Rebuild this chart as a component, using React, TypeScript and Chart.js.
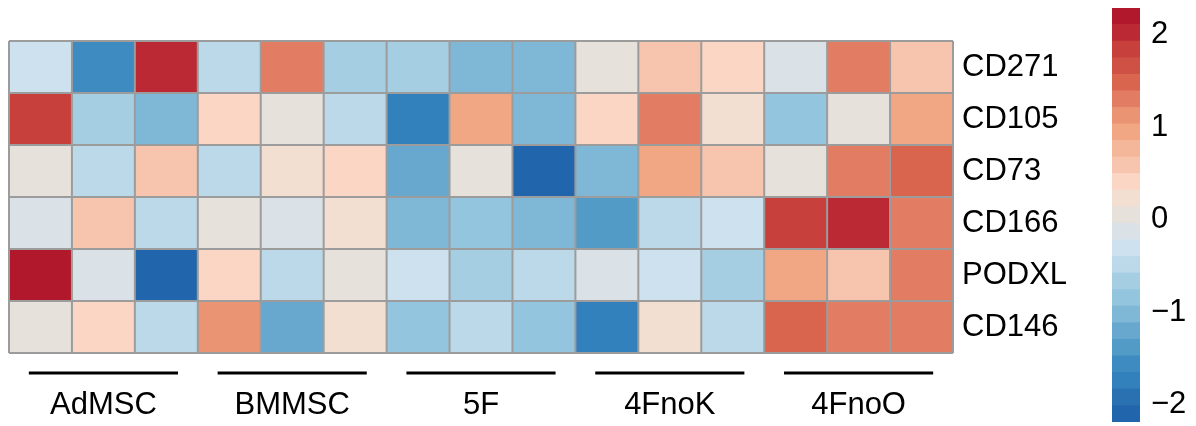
import React, { useEffect, useRef } from 'react';
import { Chart, registerables } from 'chart.js';

Chart.register(...registerables);

// ---- data ----
const rowLabels = ['CD271', 'CD105', 'CD73', 'CD166', 'PODXL', 'CD146'];
const groups = ['AdMSC', 'BMMSC', '5F', '4FnoK', '4FnoO'];
const columns = [
  'AdMSC 1', 'AdMSC 2', 'AdMSC 3',
  'BMMSC 1', 'BMMSC 2', 'BMMSC 3',
  '5F 1', '5F 2', '5F 3',
  '4FnoK 1', '4FnoK 2', '4FnoK 3',
  '4FnoO 1', '4FnoO 2', '4FnoO 3',
];
const cd271 = [-0.30, -1.55, 2.00, -0.48, 1.29, -0.66, -0.66, -1.02, -1.02, 0.05, 0.59, 0.41, -0.13, 1.29, 0.59];
const cd105 = [1.83, -0.66, -1.02, 0.41, 0.05, -0.48, -1.72, 0.95, -1.02, 0.41, 1.29, 0.23, -0.84, 0.05, 0.95];
const cd73 = [0.05, -0.48, 0.59, -0.48, 0.23, 0.41, -1.19, 0.05, -2.08, -1.02, 0.95, 0.59, 0.05, 1.29, 1.56];
const cd166 = [-0.13, 0.59, -0.48, 0.05, -0.13, 0.23, -1.02, -0.84, -1.02, -1.37, -0.48, -0.30, 1.83, 2.00, 1.29];
const podxl = [2.15, -0.13, -2.08, 0.41, -0.48, 0.05, -0.30, -0.66, -0.48, -0.13, -0.30, -0.66, 0.95, 0.59, 1.29];
const cd146 = [0.05, 0.41, -0.48, 1.05, -1.19, 0.23, -0.84, -0.48, -0.84, -1.72, 0.23, -0.48, 1.40, 1.29, 1.29];
const rows = [cd271, cd105, cd73, cd166, podxl, cd146];

const scaleTicks = [2, 1, 0, -1, -2];
const scaleMin = -2.19;
const scaleMax = 2.29;

// ---- style ----
const palette = [
  '#2166ac', '#2a71b2', '#3381bc', '#3d8bc0', '#529bc7', '#68a8cf', '#7fb7d7', '#93c5de',
  '#a6cee3', '#bbd9e9', '#cde2ee', '#dae1e7', '#e7e1dc', '#f3dfd2', '#fbd6c4', '#f7c5ae',
  '#f4b799', '#f2a784', '#ea9474', '#e27d64', '#d9654f', '#cf5146', '#c8403c', '#bb2a34',
  '#b2182b',
];
const FONT = '"Liberation Sans", Arial, Helvetica, sans-serif';
const binW = (scaleMax - scaleMin) / palette.length;

function colorFor(v: number): string {
  let k = Math.floor((v - scaleMin) / binW);
  if (k < 0) k = 0;
  if (k > palette.length - 1) k = palette.length - 1;
  return palette[k];
}

const gridPlugin = {
  id: 'cellGrid',
  afterDatasetsDraw(chart: any) {
    const { ctx } = chart;
    const x = chart.scales.x;
    const y = chart.scales.y;
    ctx.save();
    ctx.strokeStyle = '#9c9c9c';
    ctx.lineWidth = 2;
    const left = x.getPixelForValue(-0.5);
    const right = x.getPixelForValue(columns.length - 0.5);
    const top = y.getPixelForValue(0);
    const bottom = y.getPixelForValue(rowLabels.length);
    ctx.beginPath();
    for (let c = 0; c <= columns.length; c++) {
      const px = x.getPixelForValue(c - 0.5);
      ctx.moveTo(px, top);
      ctx.lineTo(px, bottom);
    }
    for (let r = 0; r <= rowLabels.length; r++) {
      const py = y.getPixelForValue(r);
      ctx.moveTo(left, py);
      ctx.lineTo(right, py);
    }
    ctx.stroke();
    ctx.restore();
  },
};

const groupPlugin = {
  id: 'groupLabels',
  afterDraw(chart: any) {
    const { ctx, chartArea } = chart;
    const x = chart.scales.x;
    const colW = x.getPixelForValue(1) - x.getPixelForValue(0);
    const n = columns.length / groups.length;
    ctx.save();
    ctx.strokeStyle = '#000';
    ctx.fillStyle = '#000';
    ctx.lineWidth = 3;
    ctx.font = `31px ${FONT}`;
    ctx.textAlign = 'center';
    ctx.textBaseline = 'middle';
    groups.forEach((g, i) => {
      const cx = x.getPixelForValue(i * n + (n - 1) / 2);
      const half = colW * 1.185;
      const ly = chartArea.bottom + 20;
      ctx.beginPath();
      ctx.moveTo(cx - half, ly);
      ctx.lineTo(cx + half, ly);
      ctx.stroke();
      ctx.fillText(g, cx, chartArea.bottom + 52);
    });
    ctx.restore();
  },
};

export default function App() {
  const mainRef = useRef<HTMLCanvasElement>(null);
  const barRef = useRef<HTMLCanvasElement>(null);

  useEffect(() => {
    const datasets = rows.map((vals, r) => ({
      label: rowLabels[r],
      data: vals.map((v, c) => ({ x: columns[c], y: [r, r + 1] })),
      backgroundColor: vals.map((v) => colorFor(v)),
      borderWidth: 0,
      barPercentage: 1,
      categoryPercentage: 1,
      grouped: false,
    }));

    const main = new Chart(mainRef.current as HTMLCanvasElement, {
      type: 'bar',
      data: { labels: columns, datasets: datasets as any },
      options: {
        animation: false,
        responsive: false,
        devicePixelRatio: 1,
        layout: { padding: { left: 9, top: 41, right: 0, bottom: 73 } },
        plugins: { legend: { display: false }, tooltip: { enabled: false } },
        scales: {
          x: { type: 'category', offset: true, display: false },
          y: { type: 'linear', min: 0, max: rowLabels.length, reverse: true, display: false },
          yLabels: {
            type: 'linear',
            position: 'right',
            min: 0,
            max: rowLabels.length,
            reverse: true,
            grid: { display: false, drawTicks: false },
            border: { display: false },
            afterBuildTicks: (scale: any) => {
              scale.ticks = rowLabels.map((_, i) => ({ value: i + 0.5 }));
            },
            afterFit: (scale: any) => {
              scale.width = 147;
              scale.paddingTop = 0;
              scale.paddingBottom = 0;
            },
            ticks: {
              padding: 9,
              color: '#000',
              font: { size: 31, family: FONT },
              callback: (value: any) => rowLabels[Math.floor(Number(value))],
            },
          },
        },
      } as any,
      plugins: [gridPlugin, groupPlugin],
    });

    const binDatasets = palette.map((col, k) => ({
      label: 'bin' + k,
      data: [[scaleMin + k * binW, scaleMin + (k + 1) * binW]],
      backgroundColor: col,
      borderWidth: 0,
      barPercentage: 1,
      categoryPercentage: 1,
      grouped: false,
    }));

    const bar = new Chart(barRef.current as HTMLCanvasElement, {
      type: 'bar',
      data: { labels: [''], datasets: binDatasets as any },
      options: {
        animation: false,
        responsive: false,
        devicePixelRatio: 1,
        layout: { padding: { left: 12, top: 8, right: 0, bottom: 4 } },
        plugins: { legend: { display: false }, tooltip: { enabled: false } },
        scales: {
          x: { type: 'category', offset: true, display: false },
          y: {
            type: 'linear',
            position: 'right',
            min: scaleMin,
            max: scaleMax,
            grid: { display: false, drawTicks: false },
            border: { display: false },
            afterBuildTicks: (scale: any) => {
              scale.ticks = scaleTicks.map((v) => ({ value: v }));
            },
            afterFit: (scale: any) => {
              scale.width = 56;
              scale.paddingTop = 0;
              scale.paddingBottom = 0;
            },
            ticks: {
              padding: 11,
              color: '#000',
              font: { size: 31, family: FONT },
              callback: (value: any) => {
                const n = Number(value);
                return n < 0 ? '\u2212' + Math.abs(n) : String(n);
              },
            },
          },
        },
      } as any,
    });

    return () => {
      main.destroy();
      bar.destroy();
    };
  }, []);

  return (
    <div style={{ position: 'fixed', left: 0, top: 0, width: 1196, height: 426, background: '#fff' }}>
      <canvas
        ref={mainRef}
        width={1100}
        height={426}
        style={{ position: 'absolute', left: 0, top: 0, width: 1100, height: 426, display: 'block' }}
      />
      <canvas
        ref={barRef}
        width={96}
        height={426}
        style={{ position: 'absolute', left: 1100, top: 0, width: 96, height: 426, display: 'block' }}
      />
    </div>
  );
}
